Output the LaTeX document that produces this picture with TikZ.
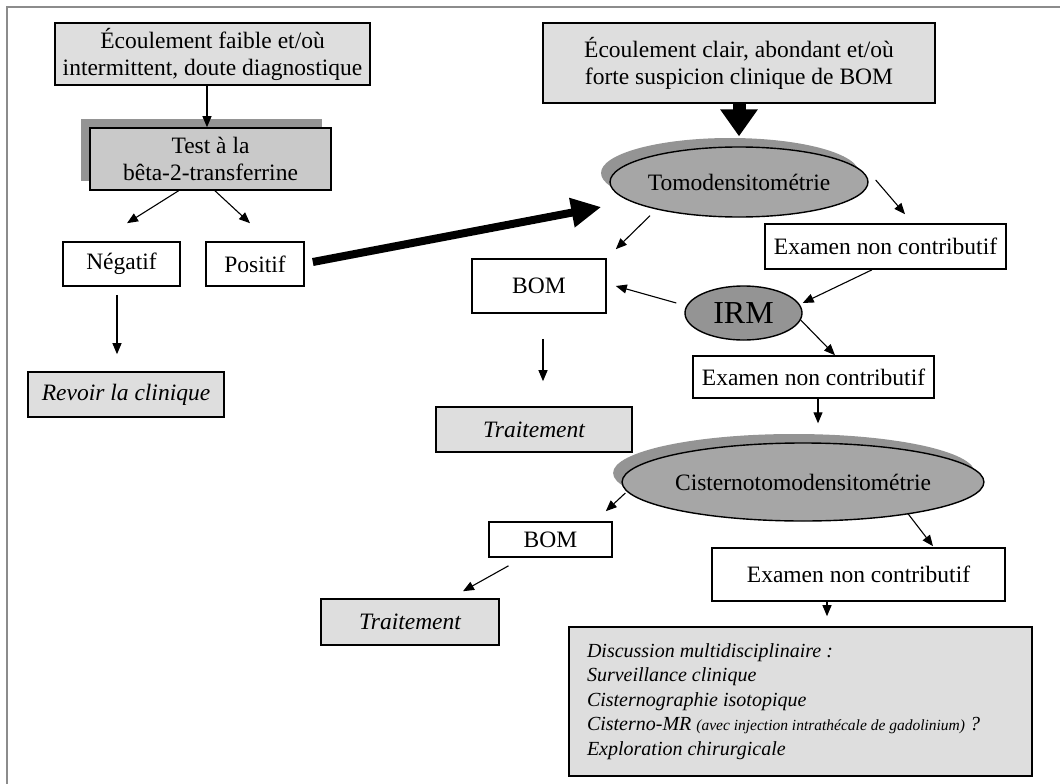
\documentclass[tikz,border=0pt]{standalone}
\usepackage{fontspec}
\setmainfont{Liberation Serif}
\usetikzlibrary{positioning}
\usetikzlibrary{arrows.meta}
\usetikzlibrary{shapes.geometric}
\usetikzlibrary{shadows}
\definecolor{boxgray}{gray}{0.87}
\definecolor{testgray}{gray}{0.79}
\definecolor{ovalgray}{gray}{0.65}
\definecolor{shadegray}{gray}{0.58}
\definecolor{framegray}{gray}{0.55}
\tikzset{
  txt/.style = {font=\fontsize{23.5}{27}\selectfont},
  ittxt/.style = {font=\fontsize{23.5}{27}\selectfont\itshape},
  box/.style = {draw, line width=1.6pt, inner sep=0, align=center, txt},
  greybox/.style = {box, fill=boxgray},
  oval/.style = {ellipse, draw, line width=1.4pt, fill=ovalgray, inner sep=0, txt},
  shade/.style = {drop shadow={shadow xshift=-9pt, shadow yshift=9pt, fill=shadegray, opacity=1}},
  arr/.style = {-{Triangle[length=11pt,width=9pt]}, line width=1.1pt},
  bigarr/.style = {-{Triangle[length=30pt,width=28pt]}, line width=8pt},
}

\begin{document}
\begin{tikzpicture}[x=1pt, y=-1pt]
    \useasboundingbox (0,0) rectangle (1060,784);
    \draw[framegray, line width=2pt] (7,784) -- (7,7) -- (1060,7);

    % left branch
    \node[greybox, minimum width=315pt, minimum height=62pt] (faible) at (212.5,54)
        {Écoulement faible et/où\\intermittent, doute diagnostique};
    \node[box, fill=testgray, shade, minimum width=241pt, minimum height=62pt] (test) at (210.5,159)
        {Test à la\\bêta-2-transferrine};
    \node[box, minimum width=117pt, minimum height=44pt] (neg) at (121.5,264) {Négatif};
    \node[box, minimum width=98pt, minimum height=44pt] (pos) at (255,264) {Positif};
    \node[greybox, ittxt, minimum width=196pt, minimum height=45pt] (revoir) at (126,394.5) {Revoir la clinique};

    % right branch
    \node[greybox, minimum width=392pt, minimum height=80pt] (clair) at (739,63)
        {Écoulement clair, abondant et/où\\forte suspicion clinique de BOM};
    \node[oval, shade, minimum width=214pt, minimum height=70pt] (tdm) at (739,182) {Tomodensitométrie};
    \node[box, minimum width=241pt, minimum height=45pt] (nc1) at (885.5,246.5) {Examen non contributif};
    \node[box, minimum width=134pt, minimum height=54pt] (bom1) at (539,286) {BOM};
    \node[oval, fill=shadegray, font=\fontsize{32}{36}\selectfont, minimum width=117pt, minimum height=54pt] (irm) at (743.5,313) {IRM};
    \node[box, minimum width=241pt, minimum height=42pt] (nc2) at (813.5,377) {Examen non contributif};
    \node[greybox, ittxt, minimum width=196pt, minimum height=45pt] (trait1) at (534,429.5) {Traitement};
    \node[oval, shade, minimum width=304pt, minimum height=78pt] (cist) at (803,482) {Cisternotomodensitométrie};
    \node[box, minimum width=123pt, minimum height=35pt] (bom2) at (550.5,539.5) {BOM};
    \node[box, minimum width=293pt, minimum height=53pt] (nc3) at (858.5,574.5) {Examen non contributif};
    \node[greybox, ittxt, minimum width=178pt, minimum height=46pt] (trait2) at (410,622) {Traitement};
    \node[greybox, align=flush left, text width=427pt, inner xsep=18pt, minimum height=149pt,
          font=\fontsize{20}{24.5}\selectfont\itshape] (disc) at (800.5,701.5)
        {Discussion multidisciplinaire :\\
         Surveillance clinique\\
         Cisternographie isotopique\\
         Cisterno-MR {\fontsize{15.5}{24.5}\selectfont(avec injection intrathécale de gadolinium)} ?\\
         Exploration chirurgicale};

    % connectors
    \draw[arr] ([xshift=-5.5pt]faible.south) -- ([xshift=-3.5pt]test.north);
    \draw[arr] ([xshift=-32pt]test.south) -- ([xshift=5.5pt,yshift=18pt]neg.north);
    \draw[arr] ([xshift=4.5pt]test.south) -- ([xshift=-5pt,yshift=18pt]pos.north);
    \draw[arr] ([xshift=-4.5pt,yshift=-8pt]neg.south) -- ([xshift=-9pt,yshift=17pt]revoir.north);
    \draw[bigarr] ([xshift=8pt,yshift=2pt]pos.east) -- ([xshift=-8pt,yshift=-25pt]tdm.west);
    \draw[-{Triangle[length=27pt,width=36pt]}, line width=13pt] (clair.south) -- ([yshift=10pt]tdm.north);
    \draw[arr] ([xshift=7pt,yshift=2pt]tdm.east) -- ([xshift=19.5pt,yshift=9pt]nc1.north);
    \draw[arr] ([xshift=-89pt,yshift=2pt]tdm.south) -- ([xshift=9pt,yshift=9pt]bom1.north east);
    \draw[arr] ([xshift=-13.5pt]nc1.south) -- ([yshift=10pt]irm.east);
    \draw[arr] ([xshift=-8pt,yshift=10pt]irm.west) -- ([xshift=9pt]bom1.east);
    \draw[arr] ([xshift=-2pt,yshift=-7pt]irm.east) -- ([xshift=21.5pt]nc2.north);
    \draw[arr] ([xshift=4pt,yshift=-25pt]bom1.south) -- ([xshift=9pt,yshift=25pt]trait1.north);
    \draw[arr] ([xshift=4.5pt]nc2.south) -- ([xshift=15pt,yshift=19pt]cist.north);
    \draw[arr] ([xshift=4pt,yshift=-11pt]cist.west) -- ([xshift=-7pt,yshift=10pt]bom2.north east);
    \draw[arr] ([xshift=105pt,yshift=8pt]cist.south) -- ([xshift=74.5pt,yshift=1pt]nc3.north);
    \draw[arr] ([xshift=-42pt,yshift=-8pt]bom2.south) -- ([xshift=53pt,yshift=7pt]trait2.north);
    \draw[arr] ([xshift=-31.5pt]nc3.south) -- ([xshift=26.5pt,yshift=10pt]disc.north);
\end{tikzpicture}
\end{document}
